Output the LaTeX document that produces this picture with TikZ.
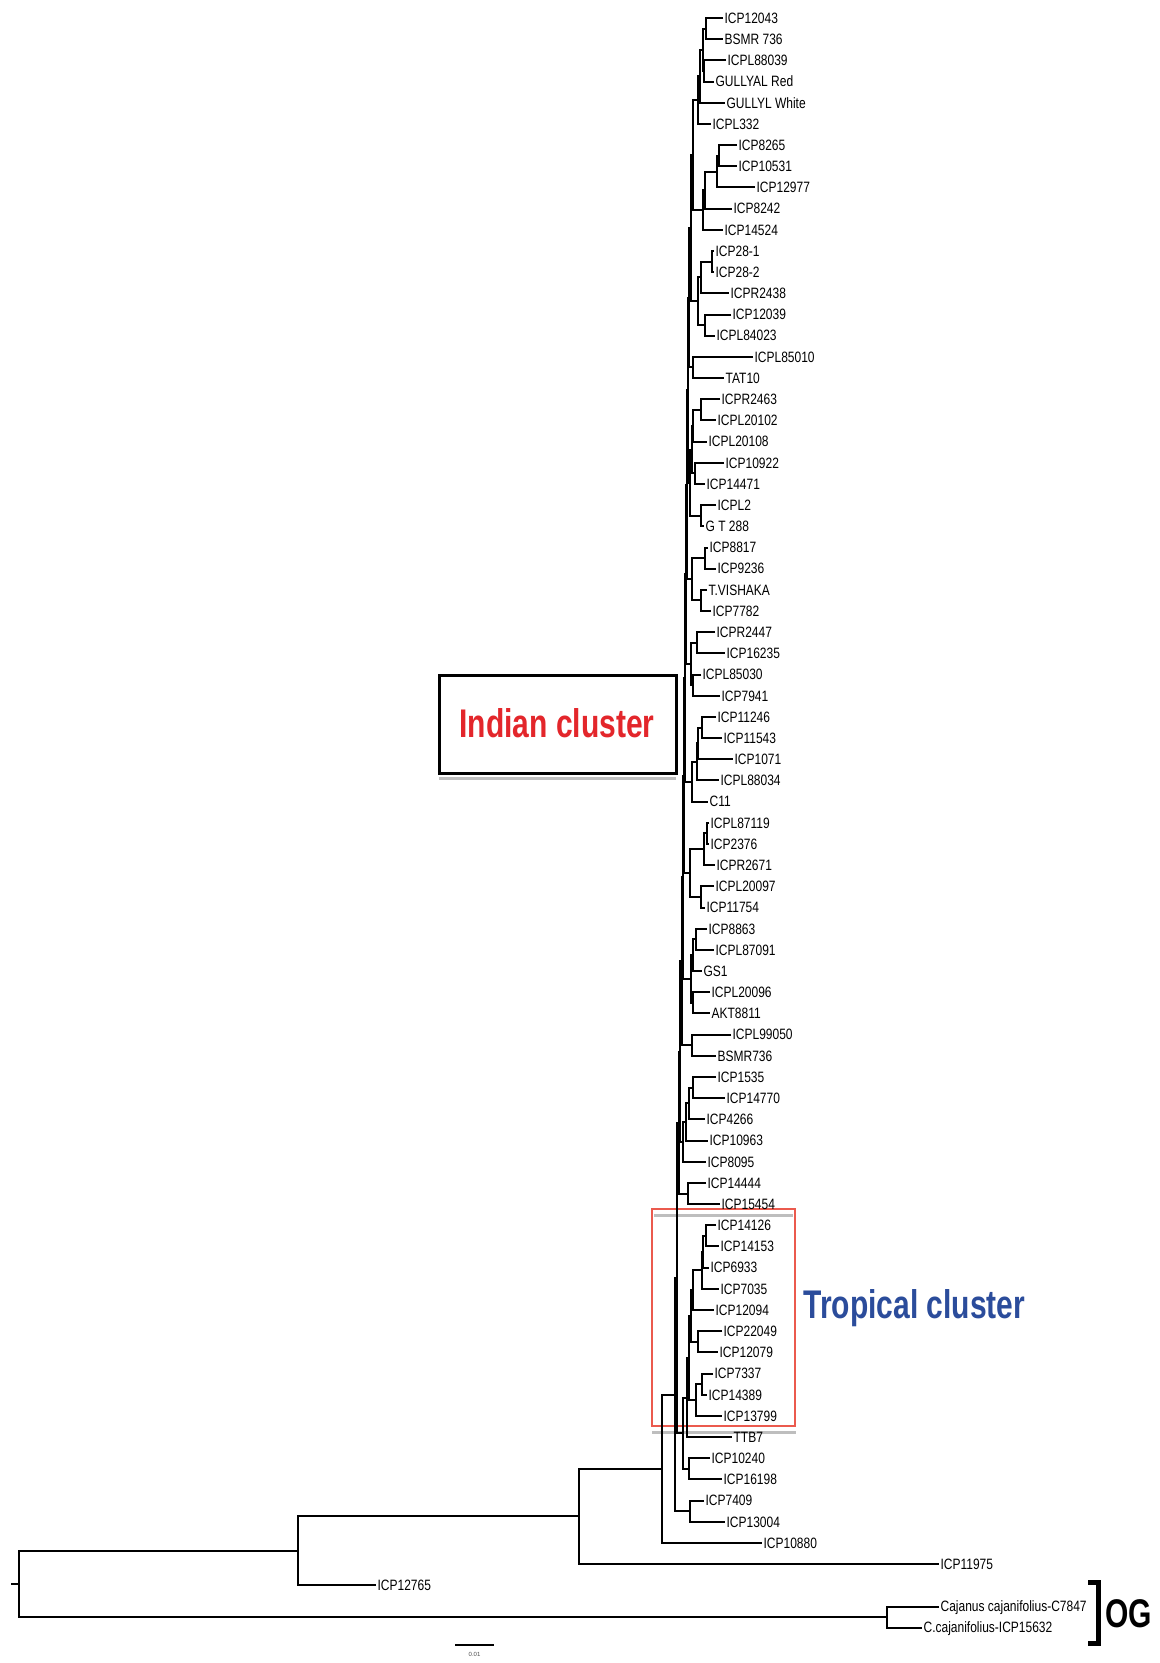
\documentclass[tikz,border=0pt]{standalone}
\usepackage{fontspec}
\setmainfont{Liberation Sans}
\newfontfamily\narrowsans[FakeStretch=0.8]{Liberation Sans}
\newfontfamily\narrowbold[FakeStretch=0.75]{Liberation Sans}
\usetikzlibrary{calc}
\definecolor{indred}{RGB}{227,38,43}
\definecolor{tropblue}{RGB}{43,76,155}
\definecolor{boxred}{RGB}{235,90,78}
\definecolor{shadowgray}{RGB}{190,190,190}
\tikzset{
  leaf/.style={anchor=west,inner xsep=0.6pt,inner ysep=0pt,text height=5.3pt,text depth=0pt,
    font=\narrowsans\fontsize{7.5}{8}\selectfont},
  branch/.style={line width=1pt},
  bigtext/.style={anchor=base west,inner sep=0pt,font=\narrowbold\bfseries\fontsize{20}{24}\selectfont},
}
\newcommand\lf[4]{\node[leaf] (#1) at (#2,{18+21.18*#3}) {#4};}
\newcommand\jn[4]{\path let \p1=(#3), \p2=(#4) in coordinate (#1) at ({#2*0.5pt},{(\y1+\y2)/2});
  \draw[branch] (#3) -| (#1) |- (#4);}
\begin{document}
\begin{tikzpicture}[x=0.5pt,y=-0.5pt]
\useasboundingbox (0,0) rectangle (1160,1663);
% annotation boxes
\draw[line width=1.5pt] (439,675) rectangle (676,773);
\draw[shadowgray,line width=1.5pt] (439,778) -- (676,778);
\node[bigtext,text=indred] (indlab) at (459,737) {Indian cluster};
\draw[boxred,line width=1.3pt] (652,1209) rectangle (795,1426);
\draw[shadowgray,line width=1.5pt] (654,1215) -- (793,1215);
\draw[shadowgray,line width=1.5pt] (652,1432) -- (796,1432);
\node[bigtext,text=tropblue] (troplab) at (803,1318) {Tropical cluster};
% leaves
\lf{L0}{723}{0}{ICP12043}
\lf{L1}{723}{1}{BSMR 736}
\lf{L2}{726}{2}{ICPL88039}
\lf{L3}{714}{3}{GULLYAL Red}
\lf{L4}{725}{4}{GULLYL White}
\lf{L5}{711}{5}{ICPL332}
\lf{L6}{737}{6}{ICP8265}
\lf{L7}{737}{7}{ICP10531}
\lf{L8}{755}{8}{ICP12977}
\lf{L9}{732}{9}{ICP8242}
\lf{L10}{723}{10}{ICP14524}
\lf{L11}{714}{11}{ICP28-1}
\lf{L12}{714}{12}{ICP28-2}
\lf{L13}{729}{13}{ICPR2438}
\lf{L14}{731}{14}{ICP12039}
\lf{L15}{715}{15}{ICPL84023}
\lf{L16}{753}{16}{ICPL85010}
\lf{L17}{724}{17}{TAT10}
\lf{L18}{720}{18}{ICPR2463}
\lf{L19}{716}{19}{ICPL20102}
\lf{L20}{707}{20}{ICPL20108}
\lf{L21}{724}{21}{ICP10922}
\lf{L22}{705}{22}{ICP14471}
\lf{L23}{716}{23}{ICPL2}
\lf{L24}{704}{24}{G T 288}
\lf{L25}{708}{25}{ICP8817}
\lf{L26}{716}{26}{ICP9236}
\lf{L27}{707}{27}{T.VISHAKA}
\lf{L28}{711}{28}{ICP7782}
\lf{L29}{715}{29}{ICPR2447}
\lf{L30}{725}{30}{ICP16235}
\lf{L31}{701}{31}{ICPL85030}
\lf{L32}{720}{32}{ICP7941}
\lf{L33}{716}{33}{ICP11246}
\lf{L34}{722}{34}{ICP11543}
\lf{L35}{733}{35}{ICP1071}
\lf{L36}{719}{36}{ICPL88034}
\lf{L37}{708}{37}{C11}
\lf{L38}{709}{38}{ICPL87119}
\lf{L39}{709}{39}{ICP2376}
\lf{L40}{715}{40}{ICPR2671}
\lf{L41}{714}{41}{ICPL20097}
\lf{L42}{705}{42}{ICP11754}
\lf{L43}{707}{43}{ICP8863}
\lf{L44}{714}{44}{ICPL87091}
\lf{L45}{702}{45}{GS1}
\lf{L46}{710}{46}{ICPL20096}
\lf{L47}{710}{47}{AKT8811}
\lf{L48}{731}{48}{ICPL99050}
\lf{L49}{716}{49}{BSMR736}
\lf{L50}{716}{50}{ICP1535}
\lf{L51}{725}{51}{ICP14770}
\lf{L52}{705}{52}{ICP4266}
\lf{L53}{708}{53}{ICP10963}
\lf{L54}{706}{54}{ICP8095}
\lf{L55}{706}{55}{ICP14444}
\lf{L56}{720}{56}{ICP15454}
\lf{L57}{716}{57}{ICP14126}
\lf{L58}{719}{58}{ICP14153}
\lf{L59}{709}{59}{ICP6933}
\lf{L60}{719}{60}{ICP7035}
\lf{L61}{714}{61}{ICP12094}
\lf{L62}{722}{62}{ICP22049}
\lf{L63}{718}{63}{ICP12079}
\lf{L64}{713}{64}{ICP7337}
\lf{L65}{707}{65}{ICP14389}
\lf{L66}{722}{66}{ICP13799}
\lf{L67}{732}{67}{TTB7}
\lf{L68}{710}{68}{ICP10240}
\lf{L69}{722}{69}{ICP16198}
\lf{L70}{704}{70}{ICP7409}
\lf{L71}{725}{71}{ICP13004}
\lf{L72}{762}{72}{ICP10880}
\lf{L73}{939}{73}{ICP11975}
\lf{L74}{376}{74}{ICP12765}
\lf{L75}{939}{75}{Cajanus cajanifolius-C7847}
\lf{L76}{922}{76}{C.cajanifolius-ICP15632}
% Indian cluster groups
\jn{a1}{706}{L0}{L1}
\jn{a2}{704}{L2}{L3}
\jn{a3}{703}{a1}{a2}
\jn{a4}{700}{a3}{L4}
\jn{a5}{698}{a4}{L5}
\jn{b1}{719}{L6}{L7}
\jn{b2}{717}{b1}{L8}
\jn{b3}{705}{b2}{L9}
\jn{b4}{703}{b3}{L10}
\jn{G1}{693}{a5}{b4}
\jn{c1}{712}{L11}{L12}
\jn{c2}{701}{c1}{L13}
\jn{c3}{705}{L14}{L15}
\jn{G2}{698}{c2}{c3}
\jn{h1}{691}{G1}{G2}
\jn{G3}{693}{L16}{L17}
\jn{h2}{689}{h1}{G3}
\jn{d1}{701}{L18}{L19}
\jn{d2}{693}{d1}{L20}
\jn{d3}{695}{L21}{L22}
\jn{d4}{692}{d2}{d3}
\jn{d5}{701}{L23}{L24}
\jn{G4}{690}{d4}{d5}
\jn{e1}{705}{L25}{L26}
\jn{e2}{701}{L27}{L28}
\jn{G5}{692}{e1}{e2}
\jn{f1}{697}{L29}{L30}
\jn{f2}{693}{L31}{L32}
\jn{G6}{691}{f1}{f2}
\jn{g1}{702}{L33}{L34}
\jn{g2}{698}{g1}{L35}
\jn{g3}{697}{g2}{L36}
\jn{G7}{692}{g3}{L37}
\jn{k1}{707}{L38}{L39}
\jn{k2}{704}{k1}{L40}
\jn{k3}{701}{L41}{L42}
\jn{G8}{690}{k2}{k3}
\jn{m1}{696}{L43}{L44}
\jn{m2}{693}{m1}{L45}
\jn{m3}{693}{L46}{L47}
\jn{G9}{691}{m2}{m3}
\jn{G10}{692}{L48}{L49}
\jn{n1}{693}{L50}{L51}
\jn{n2}{689}{n1}{L52}
\jn{n3}{686}{n2}{L53}
\jn{G11}{683}{n3}{L54}
\jn{G12}{688}{L55}{L56}
\jn{p1}{688}{h2}{G4}
\jn{p2}{687}{p1}{G5}
\jn{p3}{686}{p2}{G6}
\jn{p4}{685}{p3}{G7}
\jn{p5}{684}{p4}{G8}
\jn{p6}{683}{p5}{G9}
\jn{p7}{682}{p6}{G10}
\jn{p8}{680}{p7}{G11}
\jn{Ind}{679}{p8}{G12}
% tropical cluster
\jn{t1}{706}{L57}{L58}
\jn{t2}{703}{t1}{L59}
\jn{t3}{702}{t2}{L60}
\jn{t4}{693}{t3}{L61}
\jn{t5}{698}{L62}{L63}
\jn{t6}{691}{t4}{t5}
\jn{t7}{702}{L64}{L65}
\jn{t8}{696}{t7}{L66}
\jn{t9}{689}{t6}{t8}
\jn{E}{687}{t9}{L67}
\jn{fq}{689}{L68}{L69}
\jn{D}{683}{E}{fq}
\jn{gq}{690}{L70}{L71}
\jn{Cn}{677}{Ind}{D}
\jn{Bn}{675}{Cn}{gq}
\jn{An}{662}{Bn}{L72}
\jn{Un}{579}{An}{L73}
\jn{Vn}{298}{Un}{L74}
\jn{OGn}{887}{L75}{L76}
\jn{root}{19}{Vn}{OGn}
\path (root) ++(-8,0) coordinate (rtick);
\draw[branch] (rtick) -- (root);
% scale bar
\coordinate (sb1) at (455,1645);
\coordinate (sb2) at (494,1645);
\draw[line width=0.7pt] (sb1) -- (sb2);
\node[inner sep=0pt,font=\fontsize{3}{4}\selectfont,text=black!70] (sblab) at (474.5,1654) {0.01};
% OG bracket
\draw[line width=2.5pt,line join=miter] (1088,1582) -- (1098,1582) -- (1098,1643) -- (1088,1643);
\node[bigtext] (oglab) at (1105,1627) {OG};
\end{tikzpicture}
\end{document}
